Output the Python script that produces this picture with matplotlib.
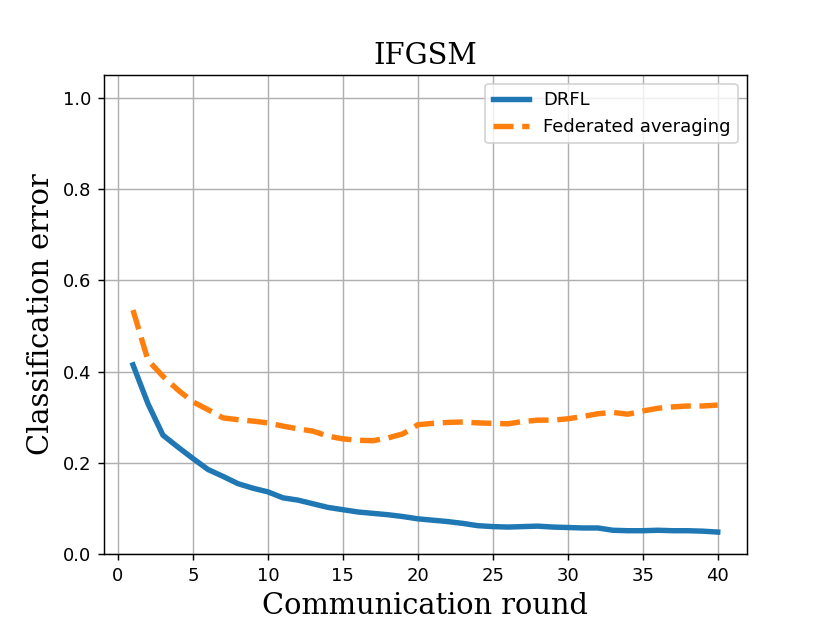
import matplotlib
matplotlib.use("Agg")
import matplotlib.pyplot as plt

# communication rounds
rounds = list(range(1, 41))

# classification error per round
drfl = [0.415, 0.33, 0.261, 0.235, 0.21, 0.186, 0.171, 0.155, 0.145, 0.137,
        0.124, 0.119, 0.111, 0.103, 0.098, 0.093, 0.090, 0.087, 0.083, 0.078,
        0.075, 0.072, 0.068, 0.063, 0.061, 0.060, 0.061, 0.062, 0.060, 0.059,
        0.058, 0.058, 0.053, 0.052, 0.052, 0.053, 0.052, 0.052, 0.051, 0.049]
fedavg = [0.535, 0.425, 0.39, 0.36, 0.334, 0.317, 0.299, 0.295, 0.292, 0.288,
          0.281, 0.275, 0.270, 0.259, 0.253, 0.250, 0.249, 0.255, 0.264, 0.284,
          0.287, 0.289, 0.290, 0.288, 0.287, 0.286, 0.291, 0.294, 0.294, 0.297,
          0.302, 0.308, 0.311, 0.307, 0.314, 0.320, 0.323, 0.325, 0.325, 0.327]

fig, ax = plt.subplots(figsize=(830 / 130, 623 / 130), dpi=130)
ax.plot(rounds, drfl, color="#1f77b4", linewidth=3, label="DRFL")
ax.plot(rounds, fedavg, color="#ff7f0e", linewidth=3, linestyle="--",
        label="Federated averaging")

ax.set_ylim(0, 1.05)
ax.set_xticks([0, 5, 10, 15, 20, 25, 30, 35, 40])
ax.set_yticks([0.0, 0.2, 0.4, 0.6, 0.8, 1.0])
ax.grid(True)
ax.set_title("IFGSM", family="serif", fontsize=16)
ax.set_xlabel("Communication round", family="serif", fontsize=16)
ax.set_ylabel("Classification error", family="serif", fontsize=16)
ax.legend(loc="upper right")

fig.savefig("out.png", dpi=130)
